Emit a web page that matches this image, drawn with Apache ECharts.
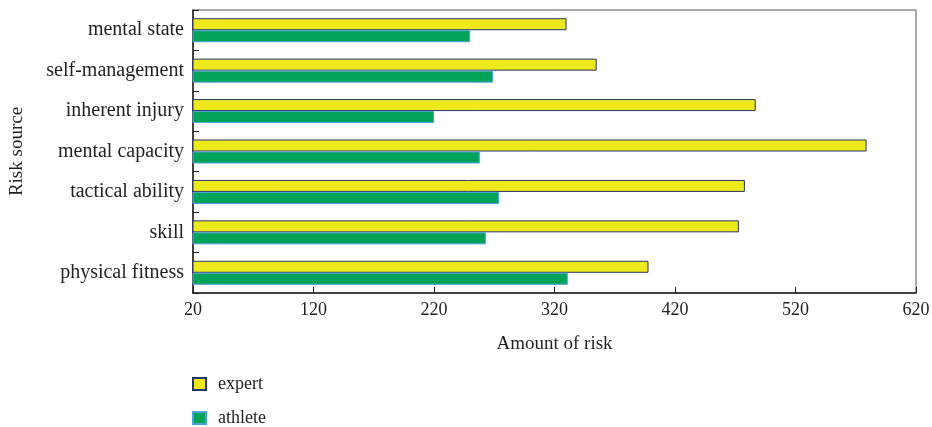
<!DOCTYPE html>
<html>
<head>
<meta charset="utf-8">
<script src="https://cdn.jsdelivr.net/npm/echarts@6/dist/echarts.min.js"></script>
<style>html,body{margin:0;padding:0;background:#fff;}#main{width:932px;height:427px;}</style>
</head>
<body>
<div id="main"></div>
<script>
const categories = ['physical fitness', 'skill', 'tactical ability', 'mental capacity', 'inherent injury', 'self-management', 'mental state'];
const expertValues = [398, 473, 478, 579, 487, 355, 330];
const athleteValues = [331, 263, 274, 258, 220, 269, 250];
const xTicks = [20, 120, 220, 320, 420, 520, 620];

const FONT = 'Liberation Serif';
const TXT = '#231f20';
const chart = echarts.init(document.getElementById('main'));
chart.setOption({
  animation: false,
  textStyle: { fontFamily: FONT },
  grid: { left: 193, right: 16, top: 10, bottom: 134, containLabel: false, outerBoundsMode: 'none', show: true, borderColor: '#555', borderWidth: 1 },
  legend: {
    data: ['expert', 'athlete'],
    orient: 'vertical',
    left: 192, top: 375, padding: 0, height: 80,
    icon: 'rect',
    itemWidth: 13, itemHeight: 12, itemGap: 16,
    textStyle: { fontFamily: FONT, fontSize: 18, color: TXT, padding: [0, 0, 0, 7] }
  },
  xAxis: {
    type: 'value',
    min: xTicks[0], max: xTicks[xTicks.length - 1], interval: 100,
    name: 'Amount of risk', nameLocation: 'middle', nameGap: 42,
    nameTextStyle: { fontFamily: FONT, fontSize: 19, color: TXT },
    axisLine: { show: true, lineStyle: { color: TXT, width: 1.5 } },
    axisTick: { show: true, inside: true, length: 6, lineStyle: { color: TXT } },
    axisLabel: { fontFamily: FONT, fontSize: 18, color: TXT, margin: 8 },
    splitLine: { show: false }
  },
  yAxis: {
    type: 'category',
    data: categories,
    name: 'Risk source', nameLocation: 'middle', nameGap: 166,
    nameTextStyle: { fontFamily: FONT, fontSize: 19, color: TXT },
    axisLine: { show: true, lineStyle: { color: TXT, width: 1.5 } },
    axisTick: { show: true, inside: true, length: 6, lineStyle: { color: TXT } },
    axisLabel: { fontFamily: FONT, fontSize: 20, color: TXT, margin: 9 },
    splitLine: { show: false }
  },
  series: [
    {
      name: 'expert', type: 'bar', data: expertValues,
      barWidth: 12, barGap: '0%',
      itemStyle: { color: '#ede91a', borderColor: '#26346e', borderWidth: 1 }
    },
    {
      name: 'athlete', type: 'bar', data: athleteValues,
      barWidth: 12, barGap: '0%',
      itemStyle: { color: '#00a358', borderColor: '#4ba3dc', borderWidth: 1 }
    }
  ]
});
</script>
</body>
</html>
